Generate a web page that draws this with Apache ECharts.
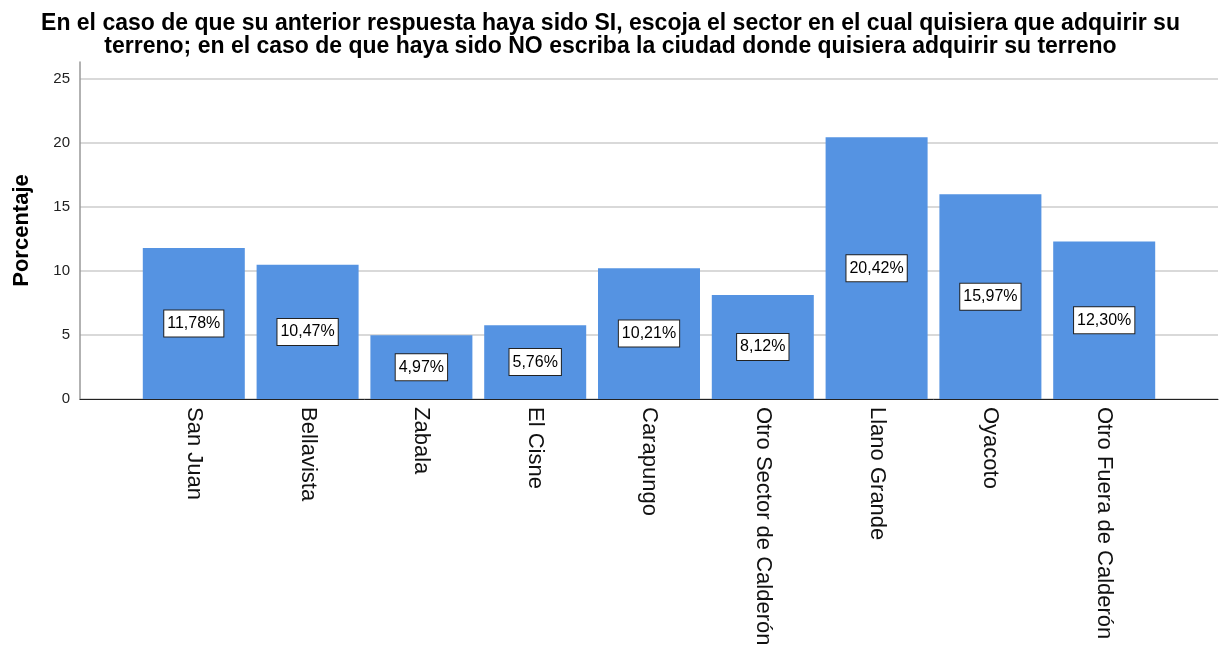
<!DOCTYPE html>
<html>
<head>
<meta charset="utf-8">
<script src="https://cdn.jsdelivr.net/npm/echarts@6/dist/echarts.min.js"></script>
<style>html,body{margin:0;padding:0;background:#fff}#c{width:1221px;height:656px}</style>
</head>
<body>
<div id="c"></div>
<script>
const titleText = 'En el caso de que su anterior respuesta haya sido SI, escoja el sector en el cual quisiera que adquirir su\nterreno; en el caso de que haya sido NO escriba la ciudad donde quisiera adquirir su terreno';
const categories = ['San Juan', 'Bellavista', 'Zabala', 'El Cisne', 'Carapungo', 'Otro Sector de Calderón', 'Llano Grande', 'Oyacoto', 'Otro Fuera de Calderón'];
const values = [11.78, 10.47, 4.97, 5.76, 10.21, 8.12, 20.42, 15.97, 12.30];
const yTicks = [0, 5, 10, 15, 20, 25];

const chart = echarts.init(document.getElementById('c'), null, {renderer: 'canvas'});
const font = 'Liberation Sans, Arial, sans-serif';
chart.setOption({
  animation: false,
  title: {
    text: titleText,
    left: 'center',
    top: 7,
    textStyle: {fontFamily: font, fontSize: 23, fontWeight: 'bold', color: '#000', lineHeight: 23}
  },
  grid: {left: 80, right: 3, top: 62, bottom: 257, containLabel: false, outerBoundsMode: 'none'},
  xAxis: {
    type: 'value',
    min: 0, max: categories.length + 1, interval: 1,
    splitLine: {show: false},
    axisTick: {show: false},
    axisLine: {show: true, onZero: false, lineStyle: {color: '#222', width: 1}},
    axisLabel: {
      rotate: -90,
      margin: 8,
      fontFamily: font, fontSize: 22, color: '#111',
      showMinLabel: false, showMaxLabel: false,
      formatter: v => categories[v - 1] || ''
    }
  },
  yAxis: {
    type: 'value',
    min: 0, max: 26.3, interval: 5,
    name: 'Porcentaje',
    nameLocation: 'middle',
    nameGap: 47,
    nameTextStyle: {fontFamily: font, fontSize: 22, fontWeight: 'bold', color: '#000'},
    axisLine: {show: true, lineStyle: {color: '#999', width: 1.5}},
    axisTick: {show: false},
    axisLabel: {
      margin: 10, fontFamily: font, fontSize: 15, color: '#222',
      showMaxLabel: false,
      formatter: v => (yTicks.indexOf(v) >= 0 ? String(v) : '')
    },
    splitLine: {show: true, showMaxLine: false, lineStyle: {color: '#cccccc', width: 1.5}}
  },
  series: [{
    type: 'bar',
    barWidth: 102,
    data: categories.map((c, i) => [i + 1, values[i]]),
    itemStyle: {color: '#5593e2'},
    label: {
      show: true,
      position: 'inside',
      formatter: p => p.value[1].toFixed(2).replace('.', ',') + '%',
      fontFamily: font, fontSize: 16, color: '#000', lineHeight: 18,
      backgroundColor: '#fff',
      borderColor: '#222', borderWidth: 1,
      padding: [4, 3, 4, 3]
    }
  }]
});
</script>
</body>
</html>
